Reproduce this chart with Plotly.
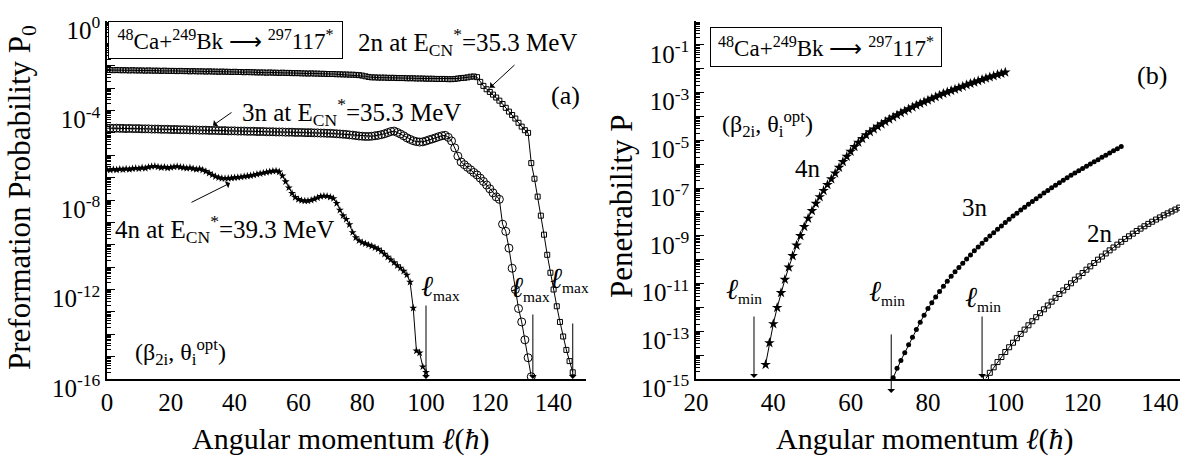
import plotly.graph_objects as go

# ---------------- data ----------------
# panel (a): preformation probability P0, stored as log10 values
ell_a_2n = list(range(0, 147))
log_p0_2n = [
    -2.19, -2.19, -2.20, -2.19, -2.20, -2.20, -2.20, -2.21, -2.20, -2.21,
    -2.21, -2.21, -2.22, -2.21, -2.22, -2.22, -2.22, -2.23, -2.22, -2.23,
    -2.23, -2.23, -2.24, -2.23, -2.24, -2.24, -2.25, -2.24, -2.25, -2.25,
    -2.25, -2.26, -2.25, -2.26, -2.26, -2.27, -2.26, -2.27, -2.27, -2.28,
    -2.27, -2.28, -2.28, -2.29, -2.28, -2.29, -2.29, -2.30, -2.30, -2.30,
    -2.31, -2.30, -2.31, -2.31, -2.32, -2.31, -2.32, -2.32, -2.33, -2.33,
    -2.33, -2.34, -2.34, -2.35, -2.34, -2.35, -2.35, -2.36, -2.36, -2.37,
    -2.37, -2.37, -2.38, -2.38, -2.39, -2.39, -2.40, -2.40, -2.41, -2.42,
    -2.44, -2.47, -2.50, -2.52, -2.52, -2.53, -2.53, -2.53, -2.54, -2.54,
    -2.54, -2.55, -2.55, -2.55, -2.56, -2.56, -2.56, -2.57, -2.57, -2.57,
    -2.58, -2.58, -2.58, -2.59, -2.59, -2.59, -2.59, -2.60, -2.60, -2.59,
    -2.57, -2.55, -2.54, -2.52, -2.49, -2.48, -2.51, -2.72, -2.90, -3.05,
    -3.17, -3.29, -3.42, -3.56, -3.71, -3.88, -4.05, -4.20, -4.36, -4.55,
    -4.72, -4.88, -5.00, -6.35, -7.05, -7.85, -8.70, -9.55, -10.45, -11.25,
    -12.00, -12.75, -13.45, -14.10, -14.70, -15.20, -15.70,
]
ell_a_3n = list(range(0, 134))
log_p0_3n = [
    -4.79, -4.79, -4.80, -4.79, -4.80, -4.80, -4.81, -4.80, -4.81, -4.81,
    -4.81, -4.82, -4.82, -4.82, -4.83, -4.83, -4.83, -4.84, -4.84, -4.84,
    -4.85, -4.85, -4.85, -4.86, -4.86, -4.86, -4.87, -4.87, -4.87, -4.88,
    -4.88, -4.88, -4.89, -4.89, -4.89, -4.90, -4.90, -4.90, -4.91, -4.91,
    -4.91, -4.92, -4.92, -4.92, -4.93, -4.93, -4.93, -4.94, -4.94, -4.94,
    -4.95, -4.95, -4.95, -4.96, -4.96, -4.96, -4.97, -4.97, -4.97, -4.98,
    -4.98, -4.98, -4.99, -4.99, -4.99, -5.00, -5.00, -5.01, -5.01, -5.02,
    -5.02, -5.03, -5.04, -5.05, -5.06, -5.07, -5.09, -5.10, -5.12, -5.14,
    -5.15, -5.16, -5.16, -5.15, -5.13, -5.11, -5.08, -5.04, -4.99, -4.94,
    -4.92, -4.98, -5.05, -5.13, -5.22, -5.29, -5.35, -5.39, -5.41, -5.40,
    -5.36, -5.31, -5.27, -5.22, -5.17, -5.13, -5.11, -5.20, -5.36, -5.67,
    -6.04, -6.30, -6.42, -6.54, -6.65, -6.77, -6.88, -7.02, -7.17, -7.33,
    -7.50, -7.68, -7.86, -7.97, -9.08, -9.40, -10.15, -11.05, -12.00, -12.85,
    -13.45, -14.25, -15.05, -15.90,
]
ell_a_4n = list(range(0, 101))
log_p0_4n = [
    -6.64, -6.66, -6.63, -6.65, -6.62, -6.64, -6.61, -6.63, -6.60, -6.58,
    -6.60, -6.56, -6.58, -6.53, -6.50, -6.49, -6.52, -6.55, -6.53, -6.57,
    -6.54, -6.52, -6.50, -6.53, -6.55, -6.58, -6.56, -6.60, -6.63, -6.61,
    -6.66, -6.72, -6.80, -6.88, -6.95, -7.00, -7.03, -7.04, -7.03, -7.02,
    -7.00, -6.99, -6.97, -6.95, -6.93, -6.91, -6.88, -6.85, -6.82, -6.79,
    -6.76, -6.73, -6.71, -6.70, -6.74, -6.92, -7.18, -7.45, -7.70, -7.88,
    -7.97, -8.02, -8.04, -8.04, -8.01, -7.96, -7.90, -7.84, -7.82, -7.83,
    -7.87, -7.93, -8.15, -8.45, -8.70, -8.86, -9.10, -9.45, -9.68, -9.82,
    -9.90, -9.95, -10.01, -10.06, -10.13, -10.19, -10.29, -10.42, -10.55, -10.67,
    -10.80, -10.93, -11.04, -11.18, -11.35, -11.67, -12.83, -14.74, -14.83, -15.45,
    -15.70,
]

# panel (b): penetrability P, stored as log10 values
ell_b_4n = list(range(38, 101))
log_p_4n = [
    -14.40, -13.49, -12.69, -12.01, -11.39, -10.83, -10.32, -9.84, -9.40, -9.00,
    -8.62, -8.27, -7.95, -7.65, -7.37, -7.11, -6.86, -6.62, -6.38, -6.14,
    -5.90, -5.68, -5.47, -5.27, -5.09, -4.93, -4.78, -4.65, -4.53, -4.42,
    -4.32, -4.22, -4.12, -4.03, -3.94, -3.85, -3.77, -3.69, -3.61, -3.53,
    -3.46, -3.39, -3.32, -3.25, -3.18, -3.11, -3.04, -2.98, -2.92, -2.86,
    -2.80, -2.74, -2.68, -2.62, -2.57, -2.51, -2.46, -2.40, -2.35, -2.30,
    -2.25, -2.20, -2.15,
]
ell_b_3n = list(range(71, 131))
log_p_3n = [
    -14.95, -14.55, -14.22, -13.90, -13.57, -13.25, -12.93, -12.62, -12.33, -12.05,
    -11.80, -11.56, -11.33, -11.11, -10.90, -10.70, -10.51, -10.33, -10.15, -9.97,
    -9.80, -9.63, -9.47, -9.31, -9.16, -9.01, -8.87, -8.73, -8.59, -8.44,
    -8.31, -8.17, -8.05, -7.92, -7.80, -7.68, -7.56, -7.45, -7.33, -7.21,
    -7.10, -6.99, -6.88, -6.78, -6.67, -6.57, -6.46, -6.37, -6.27, -6.18,
    -6.09, -5.99, -5.90, -5.81, -5.71, -5.62, -5.53, -5.44, -5.35, -5.26,
]
ell_b_2n = list(range(95, 147))
log_p_2n = [
    -14.97, -14.74, -14.51, -14.29, -14.08, -13.87, -13.67, -13.48, -13.29, -13.11,
    -12.93, -12.75, -12.58, -12.41, -12.24, -12.08, -11.92, -11.76, -11.60, -11.44,
    -11.29, -11.14, -10.99, -10.84, -10.70, -10.56, -10.42, -10.28, -10.14, -10.00,
    -9.87, -9.74, -9.61, -9.49, -9.37, -9.25, -9.13, -9.02, -8.91, -8.80,
    -8.70, -8.60, -8.50, -8.41, -8.32, -8.23, -8.14, -8.06, -7.98, -7.90,
    -7.82, -7.74,
]

# limiting angular momenta marked by arrows
ell_max_a = [100, 133.5, 146]
ell_min_b = [35, 70.5, 94]

# axis ticks
x_ticks_a = [0, 20, 40, 60, 80, 100, 120, 140]
x_minor_a = [10, 30, 50, 70, 90, 110, 130, 150]
x_ticks_b = [20, 40, 60, 80, 100, 120, 140]
x_minor_b = [30, 50, 70, 90, 110, 130]
y_decades_a = [-16, -15, -14, -13, -12, -11, -10, -9, -8, -7, -6, -5, -4, -3, -2, -1, 0]
y_labeled_a = [-16, -12, -8, -4, 0]
y_decades_b = [-15, -14, -13, -12, -11, -10, -9, -8, -7, -6, -5, -4, -3, -2, -1, 0]
y_labeled_b = [-15, -13, -11, -9, -7, -5, -3, -1]

# ---------------- figure ----------------
FONT = "Liberation Serif, Times New Roman, serif"
W, H = 1194, 456
ML, MR, MT, MB = 107, 14, 19, 77
PW, PH = W - ML - MR, H - MT - MB


def px(xp):
    return (xp - ML) / PW


def py(yp):
    return (H - MB - yp) / PH


def pow10(vals):
    return [10 ** v for v in vals]


def sup_label(k):
    return "10<sup>%d</sup>" % k


dom_a = [0, px(585.5)]
dom_b = [px(696), 1]

fig = go.Figure()
line = dict(color="black", width=1)

fig.add_trace(go.Scatter(x=ell_a_2n, y=pow10(log_p0_2n), mode="lines+markers", line=line,
                         marker=dict(symbol="square-open", size=5, color="black", line=dict(width=1)),
                         xaxis="x", yaxis="y", showlegend=False))
fig.add_trace(go.Scatter(x=ell_a_3n, y=pow10(log_p0_3n), mode="lines+markers", line=line,
                         marker=dict(symbol="circle-open", size=8, color="black", line=dict(width=1)),
                         xaxis="x", yaxis="y", showlegend=False))
fig.add_trace(go.Scatter(x=ell_a_4n, y=pow10(log_p0_4n), mode="lines+markers", line=line,
                         marker=dict(symbol="star", size=6, color="black"),
                         xaxis="x", yaxis="y", showlegend=False))

fig.add_trace(go.Scatter(x=ell_b_4n, y=pow10(log_p_4n), mode="lines+markers", line=line,
                         marker=dict(symbol="star", size=8, color="black"),
                         xaxis="x2", yaxis="y2", showlegend=False))
fig.add_trace(go.Scatter(x=ell_b_3n, y=pow10(log_p_3n), mode="lines+markers", line=line,
                         marker=dict(symbol="circle", size=5, color="black"),
                         xaxis="x2", yaxis="y2", showlegend=False))
fig.add_trace(go.Scatter(x=ell_b_2n, y=pow10(log_p_2n), mode="lines+markers", line=line,
                         marker=dict(symbol="square-open", size=5, color="black", line=dict(width=1)),
                         xaxis="x2", yaxis="y2", showlegend=False))

tickfont = dict(family=FONT, size=25, color="black")
minor_log_a = [m * 10.0 ** k for k in y_decades_a[:-1] for m in range(2, 10)]
minor_log_b = [m * 10.0 ** k for k in y_decades_b[:-1] for m in range(2, 10)]

base = dict(showline=True, linecolor="black", linewidth=1.5, showgrid=False, zeroline=False,
            tickcolor="black", tickwidth=1.2)


def xax(dom, rng, ticks, minor, side, overlay, anchor, labels, direction):
    d = dict(domain=dom, range=rng, anchor=anchor, side=side, tickmode="array", tickvals=ticks,
             ticks=direction, ticklen=8 if direction else 0, showticklabels=labels,
             tickfont=tickfont, **base)
    if direction:
        d["minor"] = dict(tickmode="array", tickvals=minor, ticks=direction, ticklen=5,
                          tickcolor="black", tickwidth=1.2)
    if overlay:
        d["overlaying"] = overlay
    return d


def yax(rng, decades, labeled, minor, side, overlay, anchor, labels):
    d = dict(type="log", range=rng, anchor=anchor, side=side, tickmode="array",
             tickvals=pow10(decades), ticks="inside", ticklen=8, showticklabels=labels,
             tickfont=tickfont,
             minor=dict(tickmode="array", tickvals=minor, ticks="inside", ticklen=4,
                        tickcolor="black", tickwidth=1), **base)
    if labels:
        d["ticktext"] = [sup_label(k) if k in labeled else "" for k in decades]
        d["ticklabelshift"] = 9
    if overlay:
        d["overlaying"] = overlay
    else:
        d["domain"] = [0, 1]
    return d


fig.update_layout(
    width=W, height=H, margin=dict(l=ML, r=MR, t=MT, b=MB),
    paper_bgcolor="white", plot_bgcolor="white",
    font=dict(family=FONT, color="black"),
    # panel (a)
    xaxis=xax(dom_a, [0, 150], x_ticks_a, x_minor_a, "bottom", None, "y", True, ""),
    xaxis3=xax(dom_a, [0, 150], x_ticks_a, x_minor_a, "top", "x", "y", False, "inside"),
    xaxis5=xax(dom_a, [0, 150], x_ticks_a, x_minor_a, "bottom", "x", "y", False, "outside"),
    yaxis=yax([-16, 0], y_decades_a, y_labeled_a, minor_log_a, "left", None, "x", True),
    yaxis3=yax([-16, 0], y_decades_a, y_labeled_a, minor_log_a, "right", "y", "x", False),
    # panel (b)
    xaxis2=xax(dom_b, [20, 145.2], x_ticks_b, x_minor_b, "bottom", None, "y2", True, ""),
    xaxis4=xax(dom_b, [20, 145.2], x_ticks_b, x_minor_b, "top", "x2", "y2", False, "inside"),
    xaxis6=xax(dom_b, [20, 145.2], x_ticks_b, x_minor_b, "bottom", "x2", "y2", False, "outside"),
    yaxis2=yax([-15, 0], y_decades_b, y_labeled_b, minor_log_b, "left", None, "x2", True),
    yaxis4=yax([-15, 0], y_decades_b, y_labeled_b, minor_log_b, "right", "y2", "x2", False),
)

ann = []


def text(xp, yp, s, size=25, xanchor="center", yanchor="middle", angle=0):
    ann.append(dict(x=px(xp), y=py(yp), xref="paper", yref="paper", text=s, showarrow=False,
                    xanchor=xanchor, yanchor=yanchor, textangle=angle,
                    font=dict(family=FONT, size=size, color="black")))


def slant_arrow(hx, hy, tx, ty):
    ann.append(dict(x=px(hx), y=py(hy), xref="paper", yref="paper", text="", showarrow=True,
                    ax=tx - hx, ay=ty - hy, axref="pixel", ayref="pixel",
                    arrowhead=1, arrowsize=1.3, arrowwidth=1, arrowcolor="black"))


# axis titles
text(340, 439, "Angular momentum <i>ℓ</i>(<i>ħ</i>)", size=30)
text(924, 439, "Angular momentum <i>ℓ</i>(<i>ħ</i>)", size=30)
text(22, 197, "Preformation Probability P<sub>0</sub>", size=31, angle=-90)
text(622, 206, "Penetrability P", size=31, angle=-90)

# reaction boxes
box_text = "<sup>48</sup>Ca+<sup>249</sup>Bk ⟶ <sup>297</sup>117<sup>*</sup>"
for (x0, y0, x1, y1) in [(108, 19, 343, 57), (710, 25, 942, 65)]:
    ann.append(dict(x=px((x0 + x1) / 2), y=py((y0 + y1) / 2), xref="paper", yref="paper",
                    text=box_text, showarrow=False, xanchor="center", yanchor="middle",
                    width=x1 - x0 - 2, height=y1 - y0 - 2, borderpad=0,
                    bordercolor="black", borderwidth=1, bgcolor="white",
                    font=dict(family=FONT, size=23, color="black")))

# panel (a) labels
text(356, 40, "2n at E<sub>CN</sub><sup>*</sup>=35.3 MeV", xanchor="left")
text(240, 111, "3n at E<sub>CN</sub><sup>*</sup>=35.3 MeV", xanchor="left")
text(113, 228, "4n at E<sub>CN</sub><sup>*</sup>=39.3 MeV", xanchor="left")
text(565, 94, "(a)", size=26)
text(133, 352, "(β<sub>2i</sub>, θ<sub>i</sub><sup>opt</sup>)", size=24, xanchor="left")
slant_arrow(490, 86, 516, 62)
slant_arrow(213, 124, 233, 110)
slant_arrow(230, 182, 190, 202)

# panel (b) labels
text(1152, 74, "(b)", size=26)
text(720, 123, "(β<sub>2i</sub>, θ<sub>i</sub><sup>opt</sup>)", size=24, xanchor="left")
text(808, 167, "4n")
text(975, 207, "3n")
text(1100, 233, "2n")

ell_big = "<span style='font-size:29px'><i>ℓ</i></span>"

# l_max arrows in (a)
for xv, tail, lab in zip(ell_max_a, [304, 313, 322], [(440, 286), (530, 287), (569, 278)]):
    ann.append(dict(x=xv, y=0, xref="x", yref="paper", text="", showarrow=True,
                    ax=0, ay=-(379 - tail), axref="pixel", ayref="pixel",
                    arrowhead=1, arrowsize=1.3, arrowwidth=1, arrowcolor="black"))
    text(lab[0], lab[1], ell_big + "<sub>max</sub>", size=22)

# l_min arrows in (b)
for xv, tail, tip, lab in zip(ell_min_b, [315, 333, 315], [378, 393, 378],
                              [(744, 290), (887, 292), (983, 298)]):
    ann.append(dict(x=xv, y=py(tip), xref="x2", yref="paper", text="", showarrow=True,
                    ax=0, ay=-(tip - tail), axref="pixel", ayref="pixel",
                    arrowhead=1, arrowsize=1.3, arrowwidth=1, arrowcolor="black"))
    text(lab[0], lab[1], ell_big + "<sub>min</sub>", size=22)

fig.update_layout(annotations=ann)
fig.write_html("out.html")
